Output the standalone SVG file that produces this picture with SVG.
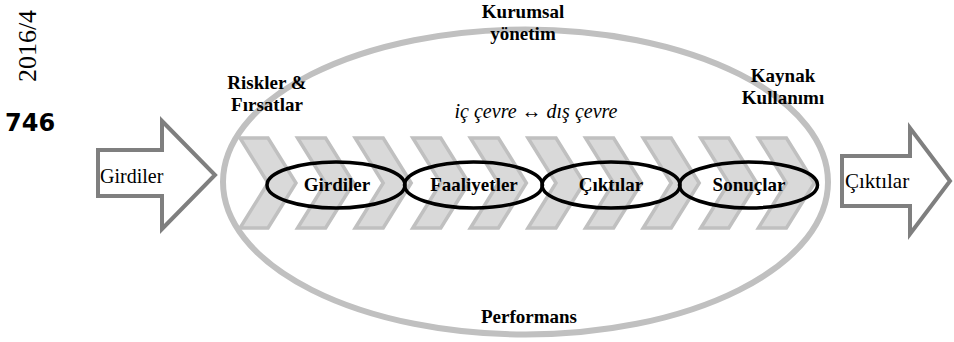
<svg xmlns="http://www.w3.org/2000/svg" xmlns:xlink="http://www.w3.org/1999/xlink" width="954" height="342" viewBox="0 0 954 342">
<defs>
<style>
.b{font-family:"Liberation Serif","Times New Roman",serif;font-weight:bold;font-size:19px;fill:#000;text-anchor:middle}
.r{font-family:"Liberation Serif","Times New Roman",serif;font-size:20px;fill:#000}
.arr{fill:#fff;stroke:#7f7f7f;stroke-width:4;stroke-linejoin:miter}
.chev{fill:#d9d9d9;stroke:#c0c0c0;stroke-width:3.5;stroke-linejoin:miter}
.stage{fill:none;stroke:#000;stroke-width:3.5}
</style>
<path id="ch" class="chev" d="M0,0 h28 l28,45 l-28,45 h-28 l28,-45 z"/>
</defs>
<rect width="954" height="342" fill="#fff"/>
<text class="r" text-anchor="middle" transform="translate(36,46) rotate(-90)" style="font-size:26px">2016/4</text>
<text x="5" y="131" font-family="DejaVu Sans,sans-serif" font-weight="bold" font-size="24" fill="#000">746</text>
<g id="context">
<ellipse cx="525.5" cy="182" rx="302.5" ry="152.5" fill="none" stroke="#c0c0c0" stroke-width="6"/>
</g>
<g id="chevrons">
<use xlink:href="#ch" x="240" y="138"/>
<use xlink:href="#ch" x="297.6" y="138"/>
<use xlink:href="#ch" x="355.2" y="138"/>
<use xlink:href="#ch" x="412.8" y="138"/>
<use xlink:href="#ch" x="470.4" y="138"/>
<use xlink:href="#ch" x="528" y="138"/>
<use xlink:href="#ch" x="585.6" y="138"/>
<use xlink:href="#ch" x="643.2" y="138"/>
<use xlink:href="#ch" x="700.8" y="138"/>
<use xlink:href="#ch" x="758.4" y="138"/>
</g>
<g id="in-arrow">
<path class="arr" d="M98,150 H162 V121 L215,175 L162,229 V196 H98 Z"/>
<text class="r" x="100" y="183">Girdiler</text>
</g>
<g id="out-arrow">
<path class="arr" d="M842,156 H910 V128 L950,181 L910,234 V206 H842 Z"/>
<text class="r" x="845" y="188" style="font-size:21px">Çıktılar</text>
</g>
<g id="n-girdiler">
<ellipse class="stage" cx="336" cy="185" rx="69" ry="23"/>
<text class="b" x="337" y="191">Girdiler</text>
</g>
<g id="n-faaliyetler">
<ellipse class="stage" cx="473.5" cy="185" rx="69" ry="23"/>
<text class="b" x="474" y="191">Faaliyetler</text>
</g>
<g id="n-ciktilar">
<ellipse class="stage" cx="611" cy="185" rx="69" ry="23"/>
<text class="b" x="611" y="191">Çıktılar</text>
</g>
<g id="n-sonuclar">
<ellipse class="stage" cx="748.5" cy="185" rx="69" ry="23"/>
<text class="b" x="749" y="191">Sonuçlar</text>
</g>
<g id="labels">
<text class="b" x="523" y="18">Kurumsal</text>
<text class="b" x="523" y="40">yönetim</text>
<text class="b" x="267" y="89">Riskler &amp;</text>
<text class="b" x="267" y="111">Fırsatlar</text>
<text class="b" x="783" y="82">Kaynak</text>
<text class="b" x="783" y="104">Kullanımı</text>
<text x="536" y="118" font-family="Liberation Serif,serif" font-style="italic" font-size="20" text-anchor="middle">iç çevre ↔ dış çevre</text>
<text class="b" x="529" y="323">Performans</text>
</g>
</svg>
